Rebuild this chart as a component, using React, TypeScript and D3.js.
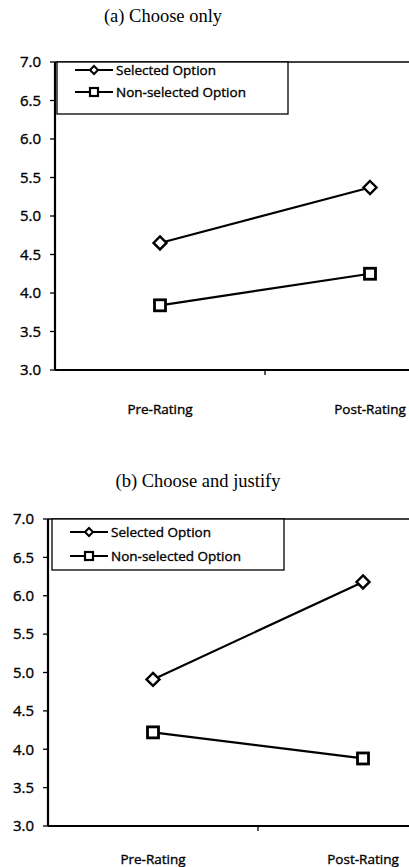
import React from "react";
import * as d3 from "d3";

const categories = ["Pre-Rating", "Post-Rating"];
const seriesNames = ["Selected Option", "Non-selected Option"];
const yTicks = [3.0, 3.5, 4.0, 4.5, 5.0, 5.5, 6.0, 6.5, 7.0];

const chooseOnlySelected = [4.65, 5.37];
const chooseOnlyNonSelected = [3.84, 4.25];
const justifySelected = [4.91, 6.18];
const justifyNonSelected = [4.22, 3.88];

const titleA = "(a) Choose only";
const titleB = "(b) Choose and justify";

const SANS = "'Open Sans', 'DejaVu Sans', sans-serif";
const SERIF = "'Liberation Serif', 'DejaVu Serif', serif";

function Diamond({ x, y, r, sw }: { x: number; y: number; r: number; sw: number }) {
  return (
    <path
      d={`M${x},${y - r}L${x + r},${y}L${x},${y + r}L${x - r},${y}Z`}
      fill="white"
      stroke="black"
      strokeWidth={sw}
    />
  );
}

function Square({ x, y, s, sw }: { x: number; y: number; s: number; sw: number }) {
  return (
    <rect x={x - s / 2} y={y - s / 2} width={s} height={s} fill="white" stroke="black" strokeWidth={sw} />
  );
}

type PanelProps = {
  title: string;
  titleX: number;
  titleY: number;
  x0: number;
  x1: number;
  yTop: number;
  yBottom: number;
  selected: number[];
  nonSelected: number[];
  legend: { x: number; y: number; w: number; h: number; row1: number; row2: number };
  catLabelY: number;
};

const textThick = { stroke: "black", strokeWidth: 0.35 };

function Panel(p: PanelProps) {
  const x = d3.scaleBand<string>().domain(categories).range([p.x0, p.x1]);
  const y = d3.scaleLinear().domain([3, 7]).range([p.yBottom, p.yTop]);
  const cx = (c: string) => (x(c) ?? 0) + x.bandwidth() / 2;
  const line = d3
    .line<number>()
    .x((_, i) => cx(categories[i]))
    .y((d) => y(d));
  const lx0 = p.legend.x + 18;
  const lx1 = p.legend.x + 56;
  const lmid = (lx0 + lx1) / 2;
  return (
    <g>
      <text x={p.titleX} y={p.titleY} textAnchor="middle" fontFamily={SERIF} fontSize={18.5} fill="black">
        {p.title}
      </text>
      {/* top frame line */}
      <line x1={p.x0} x2={409} y1={y(7)} y2={y(7)} stroke="black" strokeWidth={1.5} />
      {/* y axis */}
      <line x1={p.x0} x2={p.x0} y1={y(7)} y2={y(3)} stroke="black" strokeWidth={2.2} />
      {yTicks.map((t) => (
        <g key={t}>
          <line x1={p.x0 - 5} x2={p.x0} y1={y(t)} y2={y(t)} stroke="black" strokeWidth={1.3} />
          <text
            x={p.x0 - 14}
            y={y(t)}
            dy="0.35em"
            textAnchor="end"
            fontFamily={SANS}
            fontSize={15}
            fill="black"
            {...textThick}
          >
            {t.toFixed(1)}
          </text>
        </g>
      ))}
      {/* x axis */}
      <line x1={p.x0} x2={409} y1={y(3)} y2={y(3)} stroke="black" strokeWidth={2.2} />
      {categories.slice(1).map((c) => (
        <line key={c} x1={x(c)} x2={x(c)} y1={y(3)} y2={y(3) + 5} stroke="black" strokeWidth={1.3} />
      ))}
      {categories.map((c) => (
        <text
          key={c}
          x={cx(c)}
          y={p.catLabelY}
          textAnchor="middle"
          fontFamily={SANS}
          fontSize={13.5}
          fill="black"
          {...textThick}
        >
          {c}
        </text>
      ))}
      {/* series */}
      <path d={line(p.selected) ?? ""} fill="none" stroke="black" strokeWidth={2.2} />
      <path d={line(p.nonSelected) ?? ""} fill="none" stroke="black" strokeWidth={2.2} />
      {p.selected.map((v, i) => (
        <Diamond key={"s" + i} x={cx(categories[i])} y={y(v)} r={6.5} sw={2.4} />
      ))}
      {p.nonSelected.map((v, i) => (
        <Square key={"n" + i} x={cx(categories[i])} y={y(v)} s={11} sw={2.8} />
      ))}
      {/* legend */}
      <rect
        x={p.legend.x}
        y={p.legend.y}
        width={p.legend.w}
        height={p.legend.h}
        fill="white"
        stroke="black"
        strokeWidth={1.3}
      />
      <line x1={lx0} x2={lx1} y1={p.legend.row1} y2={p.legend.row1} stroke="black" strokeWidth={2.2} />
      <Diamond x={lmid} y={p.legend.row1} r={4} sw={2} />
      <text
        x={lx1 + 3}
        y={p.legend.row1}
        dy="0.35em"
        fontFamily={SANS}
        fontSize={13.5}
        fill="black"
        {...textThick}
      >
        {seriesNames[0]}
      </text>
      <line x1={lx0} x2={lx1} y1={p.legend.row2} y2={p.legend.row2} stroke="black" strokeWidth={2.2} />
      <Square x={lmid} y={p.legend.row2} s={8} sw={2.2} />
      <text
        x={lx1 + 3}
        y={p.legend.row2}
        dy="0.35em"
        fontFamily={SANS}
        fontSize={13.5}
        fill="black"
        {...textThick}
      >
        {seriesNames[1]}
      </text>
    </g>
  );
}

export default function App() {
  return (
    <svg
      width={409}
      height={867}
      style={{ position: "absolute", left: 0, top: 0, background: "white" }}
    >
      <rect x={0} y={0} width={409} height={867} fill="white" />
      <Panel
        title={titleA}
        titleX={163}
        titleY={22}
        x0={55}
        x1={475}
        yTop={62}
        yBottom={370}
        selected={chooseOnlySelected}
        nonSelected={chooseOnlyNonSelected}
        legend={{ x: 57, y: 62, w: 231, h: 52, row1: 70, row2: 92 }}
        catLabelY={414}
      />
      <Panel
        title={titleB}
        titleX={198}
        titleY={487}
        x0={48}
        x1={468}
        yTop={519}
        yBottom={826}
        selected={justifySelected}
        nonSelected={justifyNonSelected}
        legend={{ x: 52, y: 519, w: 232, h: 51, row1: 532, row2: 556 }}
        catLabelY={864}
      />
    </svg>
  );
}
